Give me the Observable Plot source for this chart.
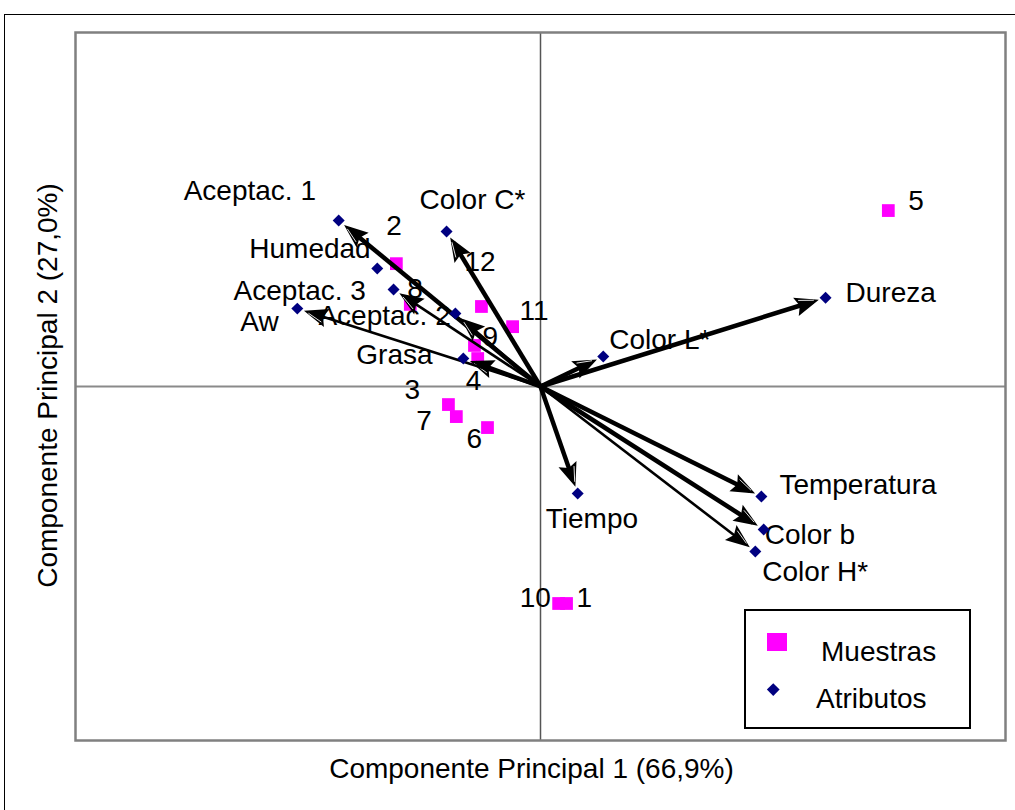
<!DOCTYPE html>
<html>
<head>
<meta charset="utf-8">
<script src="https://cdn.jsdelivr.net/npm/d3@7"></script>
<script src="https://cdn.jsdelivr.net/npm/@observablehq/plot@0.6"></script>
<style>
  html, body { margin: 0; padding: 0; background: #fff; overflow: hidden; }
  #page { position: relative; width: 1015px; height: 810px; font-family: "Liberation Sans", Arial, sans-serif; }
  #outer { position: absolute; left: 4px; top: 14px; width: 1100px; height: 900px;
           border-left: 1.5px solid #000; border-top: 1.5px solid #000; }
  #chart { position: absolute; left: 0; top: 0; }
  #legend { position: absolute; left: 744px; top: 609px; width: 223px; height: 116px;
            border: 2px solid #000; background: #fff; }
  #legend .sw-square { position: absolute; left: 21px; top: 22px; width: 20px; height: 18px; background: #ff00ff; }
  #legend .sw-diamond { position: absolute; left: 22.75px; top: 73.75px; width: 8.5px; height: 8.5px;
                        background: #000080; transform: rotate(45deg); }
  #legend .lab { position: absolute; font-size: 28px; line-height: 28px; color: #000; white-space: nowrap; }
</style>
</head>
<body>
<div id="page">
  <div id="outer"></div>
  <div id="chart"></div>
  <div id="legend">
    <div class="sw-square"></div>
    <div class="lab" style="left:75px; top:27px;">Muestras</div>
    <div class="sw-diamond"></div>
    <div class="lab" style="left:70px; top:74px;">Atributos</div>
  </div>
</div>
<script>
// Sample scores on the first two principal components
const sampleNames = ["1", "2", "3", "4", "5", "6", "7", "8", "9", "10", "11", "12"];
const sampleX = [0.056, -0.310, -0.198, -0.135, 0.748, -0.114, -0.181, -0.280, -0.142, 0.039, -0.060, -0.127];
const sampleY = [-0.613, 0.347, -0.051, 0.079, 0.497, -0.116, -0.085, 0.232, 0.116, -0.613, 0.169, 0.226];

// Attribute loadings on the first two principal components
const attributeNames = ["Aceptac. 1", "Humedad", "Aceptac. 3", "Aw", "Aceptac. 2", "Grasa", "Color C*",
                        "Color L*", "Dureza", "Temperatura", "Color b", "Color H*", "Tiempo"];
const attributeX = [-0.434, -0.351, -0.316, -0.523, -0.183, -0.166, -0.202, 0.135, 0.613, 0.475, 0.480, 0.462, 0.080];
const attributeY = [0.469, 0.333, 0.274, 0.220, 0.206, 0.079, 0.438, 0.085, 0.251, -0.311, -0.404, -0.466, -0.302];

// Attributes drawn with a vector from the origin
const vectorAttributes = ["Aceptac. 1", "Aceptac. 3", "Aw", "Aceptac. 2", "Grasa", "Color C*",
                          "Color L*", "Dureza", "Temperatura", "Color b", "Color H*", "Tiempo"];

const xTitle = "Componente Principal 1 (66,9%)";
const yTitle = "Componente Principal 2 (27,0%)";

// ---- layout / style ----
const W = 1015, H = 810, mL = 75, mR = 10, mT = 32, mB = 70;
const FONT = '"Liberation Sans", Arial, sans-serif';
const FS = 28;
const thinVectors = new Set(["Aw", "Aceptac. 3", "Aceptac. 2", "Color H*"]);
// label placement relative to its point, in pixels (left edge, vertical middle)
const sampleLabelOffset = {
  "1": [10, -5], "2": [-10, -38], "3": [-44, -15], "4": [-12, 22], "5": [20, -10], "6": [-21, 11],
  "7": [-40, 4], "8": [-3, -15], "9": [8, -8], "10": [-39, -5], "11": [7, -16], "12": [-17, -44]
};
const attributeLabelOffset = {
  "Aceptac. 1": [-155, -29], "Humedad": [-128, -20], "Aceptac. 3": [-160, 2], "Aw": [-57, 13],
  "Aceptac. 2": [-137, 2], "Grasa": [-107, -4], "Color C*": [-27, -31], "Color L*": [6, -16],
  "Dureza": [20, -5], "Temperatura": [18, -12], "Color b": [1, 6], "Color H*": [7, 21], "Tiempo": [-32, 26]
};

const px = d3.scaleLinear([-1, 1], [mL, W - mR]);
const py = d3.scaleLinear([-1, 1], [H - mB, mT]);

const samples = sampleNames.map((name, i) => {
  const [ox, oy] = sampleLabelOffset[name];
  return {name, x: sampleX[i], y: sampleY[i],
          lx: px.invert(px(sampleX[i]) + ox), ly: py.invert(py(sampleY[i]) + oy)};
});
const attributes = attributeNames.map((name, i) => {
  const [ox, oy] = attributeLabelOffset[name];
  return {name, x: attributeX[i], y: attributeY[i],
          lx: px.invert(px(attributeX[i]) + ox), ly: py.invert(py(attributeY[i]) + oy)};
});

// vectors stop a little short of the attribute marker; the head overhangs the shaft end by 6px
const GAP = 13;
const vectors = attributes.filter(d => vectorAttributes.includes(d.name)).map(d => {
  const dx = px(d.x) - px(0), dy = py(d.y) - py(0);
  const len = Math.hypot(dx, dy);
  const k = (len - GAP) / len;
  return {...d, tx: d.x * k, ty: d.y * k, thin: thinVectors.has(d.name)};
});

// filled arrowhead marker, fixed size in pixels
function headMarker(color, context) {
  const doc = (context && context.document) || document;
  const ns = "http://www.w3.org/2000/svg";
  const m = doc.createElementNS(ns, "marker");
  m.setAttribute("markerUnits", "userSpaceOnUse");
  m.setAttribute("viewBox", "-25 -25 50 50");
  m.setAttribute("markerWidth", 50);
  m.setAttribute("markerHeight", 50);
  m.setAttribute("refX", 0);
  m.setAttribute("refY", 0);
  m.setAttribute("orient", "auto");
  m.setAttribute("overflow", "visible");
  const p = doc.createElementNS(ns, "path");
  p.setAttribute("d", "M6,0L-18,-9.5L-14,0L-18,9.5Z");
  p.setAttribute("fill", color || "#000");
  p.setAttribute("stroke", "none");
  m.appendChild(p);
  const s = doc.createElementNS(ns, "path");
  s.setAttribute("d", "M-14,-5.5L1,-1");
  s.setAttribute("stroke", "#fff");
  s.setAttribute("stroke-width", 0.8);
  s.setAttribute("fill", "none");
  m.appendChild(s);
  return m;
}

const chart = Plot.plot({
  width: W, height: H,
  marginLeft: mL, marginRight: mR, marginTop: mT, marginBottom: mB,
  x: {domain: [-1, 1], axis: null},
  y: {domain: [-1, 1], axis: null},
  style: {fontFamily: FONT, fontSize: FS + "px", background: "transparent", overflow: "visible", color: "#000"},
  marks: [
    Plot.ruleY([0], {stroke: "#8a8a8a", strokeWidth: 2}),
    Plot.ruleX([0], {stroke: "#555", strokeWidth: 1.5}),
    Plot.frame({stroke: "#808080", strokeWidth: 2.5}),
    Plot.dot(samples, {x: "x", y: "y", symbol: "square", r: 7.2, fill: "#ff00ff", stroke: null}),
    Plot.text(samples, {x: "lx", y: "ly", text: "name", textAnchor: "start", fontSize: FS, fill: "#000"}),
    Plot.text(attributes, {x: "lx", y: "ly", text: "name", textAnchor: "start", fontSize: FS, fill: "#000"}),
    Plot.link(vectors.filter(d => !d.thin), {x1: 0, y1: 0, x2: "tx", y2: "ty", stroke: "#000",
      strokeWidth: 4.5, markerEnd: headMarker}),
    Plot.link(vectors.filter(d => d.thin), {x1: 0, y1: 0, x2: "tx", y2: "ty", stroke: "#000",
      strokeWidth: 2.6, markerEnd: headMarker}),
    Plot.dot(attributes, {x: "x", y: "y", symbol: "diamond2", r: 5.4, fill: "#000080", stroke: null}),
    Plot.text([xTitle], {frameAnchor: "bottom", text: d => d, textAnchor: "middle", lineAnchor: "middle",
      dx: -9, dy: 29, fontSize: FS, fill: "#000"}),
    Plot.text([yTitle], {frameAnchor: "left", text: d => d, rotate: -90, textAnchor: "middle", lineAnchor: "middle",
      dx: -27, dy: -1, fontSize: FS, fill: "#000"})
  ]
});
document.getElementById("chart").appendChild(chart);
</script>
</body>
</html>
